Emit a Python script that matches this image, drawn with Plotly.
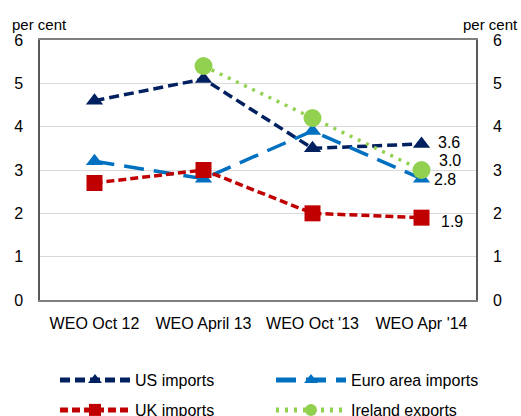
import plotly.graph_objects as go

categories = ["WEO Oct 12", "WEO April 13", "WEO Oct '13", "WEO Apr '14"]
us_imports = [4.6, 5.1, 3.5, 3.6]
euro_imports = [3.2, 2.8, 3.9, 2.8]
uk_imports = [2.7, 3.0, 2.0, 1.9]
ireland_exports = [None, 5.4, 4.2, 3.0]
y_ticks = [0, 1, 2, 3, 4, 5, 6]

FONT = "Liberation Sans, Arial, sans-serif"

W, H = 521, 416
ML, MR, MT, MB = 40, 45, 40, 116
PW, PH = W - ML - MR, H - MT - MB

fig = go.Figure()

fig.add_trace(go.Scatter(
    x=categories, y=us_imports, name="US imports", mode="lines+markers",
    line=dict(color="#002060", width=3.5, dash="10px,5px"),
    marker=dict(symbol="triangle-up", size=15, color="#002060"),
    legend="legend",
))
fig.add_trace(go.Scatter(
    x=categories, y=euro_imports, name="Euro area imports", mode="lines+markers",
    line=dict(color="#0070C0", width=3.5, dash="20px,10px"),
    marker=dict(symbol="triangle-up", size=15, color="#0070C0"),
    legend="legend2",
))
fig.add_trace(go.Scatter(
    x=categories, y=uk_imports, name="UK imports", mode="lines+markers",
    line=dict(color="#C00000", width=3.5, dash="8px,4px"),
    marker=dict(symbol="square", size=16, color="#C00000"),
    legend="legend3",
))
fig.add_trace(go.Scatter(
    x=categories, y=ireland_exports, name="Ireland exports", mode="lines+markers",
    line=dict(color="#92D050", width=3.5, dash="3px,6px"),
    marker=dict(symbol="circle", size=18, color="#92D050"),
    connectgaps=False, legend="legend4",
))
# invisible trace to anchor the right-hand axis
fig.add_trace(go.Scatter(
    x=[categories[0]], y=[None], yaxis="y2", showlegend=False, hoverinfo="skip",
    mode="lines",
))

# value labels at the last point
last = categories[-1]
label_specs = [
    (us_imports[-1], 27, 2),
    (ireland_exports[-1], 28, 10),
    (euro_imports[-1], 23, -1),
    (uk_imports[-1], 30, -4),
]
for val, dx, dy in label_specs:
    fig.add_annotation(x=last, y=val, xref="x", yref="y", text=f"{val:.1f}",
                       showarrow=False, xshift=dx, yshift=dy,
                       font=dict(family=FONT, size=16, color="#000000"))

fig.add_annotation(x=(10 - ML) / PW, y=(MT + PH - 14) / PH, xref="paper", yref="paper",
                   text="per cent", showarrow=False, xanchor="left", yanchor="top",
                   font=dict(family=FONT, size=15, color="#000000"))
fig.add_annotation(x=(W - 1 - ML) / PW, y=(MT + PH - 14) / PH, xref="paper", yref="paper",
                   text="per cent", showarrow=False, xanchor="right", yanchor="top",
                   font=dict(family=FONT, size=15, color="#000000"))

axis_font = dict(family=FONT, size=16, color="#000000")
leg_font = dict(family=FONT, size=16, color="#000000")


def leg(x_px, y_px):
    return dict(
        orientation="h", xref="container", yref="container",
        x=x_px / W, y=(H - y_px) / H, xanchor="left", yanchor="middle",
        itemwidth=70, itemsizing="constant",
        font=leg_font, bgcolor="rgba(0,0,0,0)",
    )


fig.update_layout(
    width=W, height=H,
    margin=dict(l=ML, r=MR, t=MT, b=MB, autoexpand=False),
    paper_bgcolor="white", plot_bgcolor="white",
    font=dict(family=FONT, size=16, color="#000000"),
    showlegend=True,
    legend=leg(55, 380),
    legend2=leg(271, 380),
    legend3=leg(55, 410),
    legend4=leg(271, 410),
    xaxis=dict(
        type="category", range=[-0.5, 3.5], showgrid=False,
        showline=True, linecolor="#7f7f7f", linewidth=1.5, mirror=True,
        ticks="", tickfont=axis_font, ticklabelstandoff=8,
    ),
    yaxis=dict(
        range=[0, 6], tickvals=y_ticks, showgrid=True, gridcolor="#D9D9D9",
        gridwidth=1, zeroline=False,
        showline=True, linecolor="#595959", linewidth=1.5,
        ticks="", tickfont=axis_font, ticklabelstandoff=12,
    ),
    yaxis2=dict(
        range=[0, 6], tickvals=y_ticks, overlaying="y", side="right",
        showgrid=False, zeroline=False,
        showline=True, linecolor="#595959", linewidth=1.5,
        ticks="", tickfont=axis_font, ticklabelstandoff=12,
    ),
)

fig.write_html(
    "out.html",
    config={"displayModeBar": False},
    post_script="document.body.style.margin='0';document.body.style.overflow='hidden';",
)
